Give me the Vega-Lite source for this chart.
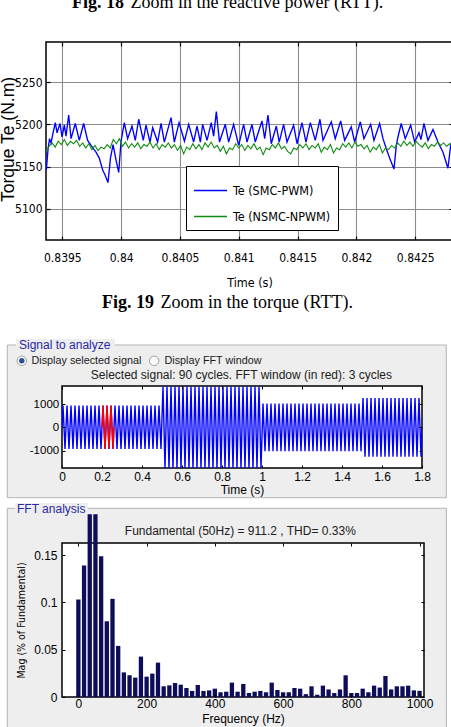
{
  "$schema": "https://vega.github.io/schema/vega-lite/v6.json",
  "background": "white",
  "padding": {"left": -2, "top": -7, "right": -2, "bottom": -19},
  "title": {
    "text": "Fig. 18",
    "subtitle": "\u200b\u00a0\u00a0\u00a0\u00a0\u00a0\u00a0\u00a0\u00a0\u00a0\u00a0\u00a0\u00a0\u00a0Zoom in the reactive power (RTT).",
    "anchor": "start", "frame": "group", "dx": 26, "offset": 29,
    "font": "Liberation Serif, Times New Roman, serif", "fontSize": 18, "fontWeight": "bold", "color": "black",
    "subtitleFont": "Liberation Serif, Times New Roman, serif", "subtitleFontSize": 18, "subtitleFontWeight": "normal", "subtitleColor": "black", "subtitlePadding": -18
  },
  "datasets": {
    "smc": [
      {"t":0.839364,"v":5146},{"t":0.839378,"v":5170},{"t":0.839391,"v":5183},{"t":0.839404,"v":5178},{"t":0.839421,"v":5190},{"t":0.839440,"v":5202},{"t":0.839455,"v":5190},{"t":0.839480,"v":5201},{"t":0.839497,"v":5185},{"t":0.839517,"v":5199},{"t":0.839531,"v":5186},{"t":0.839554,"v":5211},{"t":0.839574,"v":5183},{"t":0.839610,"v":5201},{"t":0.839644,"v":5181},{"t":0.839681,"v":5201},{"t":0.839715,"v":5181},{"t":0.839744,"v":5175},{"t":0.839786,"v":5167},{"t":0.839814,"v":5160},{"t":0.839843,"v":5146},{"t":0.839863,"v":5140},{"t":0.839888,"v":5131},{"t":0.839909,"v":5160},{"t":0.839931,"v":5176},{"t":0.839956,"v":5158},{"t":0.839979,"v":5143},{"t":0.839999,"v":5180},{"t":0.840027,"v":5202},{"t":0.840055,"v":5183},{"t":0.840092,"v":5198},{"t":0.840120,"v":5181},{"t":0.840149,"v":5206},{"t":0.840188,"v":5181},{"t":0.840211,"v":5199},{"t":0.840245,"v":5179},{"t":0.840268,"v":5196},{"t":0.840310,"v":5179},{"t":0.840339,"v":5201},{"t":0.840367,"v":5179},{"t":0.840424,"v":5208},{"t":0.840452,"v":5179},{"t":0.840492,"v":5202},{"t":0.840538,"v":5180},{"t":0.840574,"v":5200},{"t":0.840616,"v":5179},{"t":0.840645,"v":5198},{"t":0.840673,"v":5179},{"t":0.840693,"v":5200},{"t":0.840730,"v":5181},{"t":0.840766,"v":5202},{"t":0.840786,"v":5186},{"t":0.840809,"v":5215},{"t":0.840836,"v":5179},{"t":0.840885,"v":5200},{"t":0.840914,"v":5179},{"t":0.840956,"v":5200},{"t":0.840999,"v":5175},{"t":0.841041,"v":5200},{"t":0.841070,"v":5179},{"t":0.841112,"v":5200},{"t":0.841140,"v":5179},{"t":0.841197,"v":5204},{"t":0.841220,"v":5183},{"t":0.841248,"v":5211},{"t":0.841276,"v":5177},{"t":0.841319,"v":5198},{"t":0.841344,"v":5179},{"t":0.841381,"v":5200},{"t":0.841410,"v":5179},{"t":0.841466,"v":5199},{"t":0.841495,"v":5177},{"t":0.841537,"v":5202},{"t":0.841571,"v":5179},{"t":0.841608,"v":5202},{"t":0.841650,"v":5181},{"t":0.841690,"v":5206},{"t":0.841716,"v":5181},{"t":0.841786,"v":5203},{"t":0.841820,"v":5183},{"t":0.841866,"v":5204},{"t":0.841900,"v":5181},{"t":0.841956,"v":5197},{"t":0.841985,"v":5179},{"t":0.842033,"v":5203},{"t":0.842064,"v":5183},{"t":0.842121,"v":5200},{"t":0.842149,"v":5181},{"t":0.842197,"v":5201},{"t":0.842226,"v":5183},{"t":0.842254,"v":5171},{"t":0.842282,"v":5160},{"t":0.842319,"v":5147},{"t":0.842339,"v":5175},{"t":0.842353,"v":5185},{"t":0.842381,"v":5201},{"t":0.842415,"v":5183},{"t":0.842461,"v":5199},{"t":0.842495,"v":5179},{"t":0.842532,"v":5190},{"t":0.842549,"v":5182},{"t":0.842574,"v":5201},{"t":0.842608,"v":5181},{"t":0.842651,"v":5194},{"t":0.842693,"v":5179},{"t":0.842736,"v":5167},{"t":0.842778,"v":5148},{"t":0.842801,"v":5175},{"t":0.842821,"v":5183}
    ],
    "nsmc": [
      {"t":0.839361,"v":5168},{"t":0.839387,"v":5174},{"t":0.839413,"v":5178},{"t":0.839439,"v":5173},{"t":0.839465,"v":5180},{"t":0.839491,"v":5176},{"t":0.839517,"v":5182},{"t":0.839543,"v":5175},{"t":0.839569,"v":5180},{"t":0.839595,"v":5177},
      {"t":0.839621,"v":5181},{"t":0.839647,"v":5174},{"t":0.839673,"v":5178},{"t":0.839699,"v":5172},{"t":0.839725,"v":5177},{"t":0.839751,"v":5170},{"t":0.839777,"v":5175},{"t":0.839803,"v":5169},{"t":0.839829,"v":5173},{"t":0.839855,"v":5171},
      {"t":0.839881,"v":5176},{"t":0.839907,"v":5172},{"t":0.839933,"v":5182},{"t":0.839959,"v":5177},{"t":0.839985,"v":5183},{"t":0.840011,"v":5174},{"t":0.840037,"v":5179},{"t":0.840063,"v":5172},{"t":0.840089,"v":5177},{"t":0.840115,"v":5173},
      {"t":0.840141,"v":5178},{"t":0.840167,"v":5171},{"t":0.840193,"v":5176},{"t":0.840219,"v":5174},{"t":0.840245,"v":5179},{"t":0.840271,"v":5172},{"t":0.840297,"v":5177},{"t":0.840323,"v":5170},{"t":0.840349,"v":5176},{"t":0.840375,"v":5173},
      {"t":0.840401,"v":5178},{"t":0.840427,"v":5172},{"t":0.840453,"v":5176},{"t":0.840479,"v":5169},{"t":0.840505,"v":5175},{"t":0.840531,"v":5165},{"t":0.840557,"v":5173},{"t":0.840583,"v":5170},{"t":0.840609,"v":5177},{"t":0.840635,"v":5171},
      {"t":0.840661,"v":5176},{"t":0.840687,"v":5170},{"t":0.840713,"v":5178},{"t":0.840739,"v":5173},{"t":0.840765,"v":5179},{"t":0.840791,"v":5172},{"t":0.840817,"v":5175},{"t":0.840843,"v":5168},{"t":0.840869,"v":5174},{"t":0.840895,"v":5165},
      {"t":0.840921,"v":5172},{"t":0.840947,"v":5170},{"t":0.840973,"v":5177},{"t":0.840999,"v":5172},{"t":0.841025,"v":5176},{"t":0.841051,"v":5169},{"t":0.841077,"v":5175},{"t":0.841103,"v":5171},{"t":0.841129,"v":5177},{"t":0.841155,"v":5170},
      {"t":0.841181,"v":5173},{"t":0.841207,"v":5164},{"t":0.841233,"v":5172},{"t":0.841259,"v":5170},{"t":0.841285,"v":5176},{"t":0.841311,"v":5172},{"t":0.841337,"v":5178},{"t":0.841363,"v":5171},{"t":0.841389,"v":5174},{"t":0.841415,"v":5168},
      {"t":0.841441,"v":5165},{"t":0.841467,"v":5172},{"t":0.841493,"v":5170},{"t":0.841519,"v":5176},{"t":0.841545,"v":5172},{"t":0.841571,"v":5177},{"t":0.841597,"v":5170},{"t":0.841623,"v":5175},{"t":0.841649,"v":5172},{"t":0.841675,"v":5177},
      {"t":0.841701,"v":5167},{"t":0.841727,"v":5173},{"t":0.841753,"v":5170},{"t":0.841779,"v":5176},{"t":0.841805,"v":5166},{"t":0.841831,"v":5172},{"t":0.841857,"v":5170},{"t":0.841883,"v":5177},{"t":0.841909,"v":5173},{"t":0.841935,"v":5178},
      {"t":0.841961,"v":5172},{"t":0.841987,"v":5179},{"t":0.842013,"v":5174},{"t":0.842039,"v":5176},{"t":0.842065,"v":5171},{"t":0.842091,"v":5175},{"t":0.842117,"v":5167},{"t":0.842143,"v":5173},{"t":0.842169,"v":5170},{"t":0.842195,"v":5176},
      {"t":0.842221,"v":5166},{"t":0.842247,"v":5172},{"t":0.842273,"v":5170},{"t":0.842299,"v":5175},{"t":0.842325,"v":5172},{"t":0.842351,"v":5178},{"t":0.842377,"v":5174},{"t":0.842403,"v":5180},{"t":0.842429,"v":5175},{"t":0.842455,"v":5179},
      {"t":0.842481,"v":5174},{"t":0.842507,"v":5180},{"t":0.842533,"v":5176},{"t":0.842559,"v":5173},{"t":0.842585,"v":5178},{"t":0.842611,"v":5171},{"t":0.842637,"v":5176},{"t":0.842663,"v":5174},{"t":0.842689,"v":5179},{"t":0.842715,"v":5175},
      {"t":0.842741,"v":5178},{"t":0.842767,"v":5174},{"t":0.842793,"v":5177},{"t":0.842819,"v":5175}
    ],
    "sig": [
      {"t":0,"v":0},
      {"t":0.005,"v":930},{"t":0.015,"v":-930},{"t":0.025,"v":930},{"t":0.035,"v":-930},{"t":0.045,"v":930},{"t":0.055,"v":-930},{"t":0.065,"v":930},{"t":0.075,"v":-930},{"t":0.085,"v":930},{"t":0.095,"v":-930},
      {"t":0.105,"v":930},{"t":0.115,"v":-930},{"t":0.125,"v":930},{"t":0.135,"v":-930},{"t":0.145,"v":930},{"t":0.155,"v":-930},{"t":0.165,"v":930},{"t":0.175,"v":-930},{"t":0.185,"v":930},{"t":0.195,"v":-930},
      {"t":0.205,"v":930},{"t":0.215,"v":-930},{"t":0.225,"v":930},{"t":0.235,"v":-930},{"t":0.245,"v":930},{"t":0.255,"v":-930},{"t":0.265,"v":930},{"t":0.275,"v":-930},{"t":0.285,"v":930},{"t":0.295,"v":-930},
      {"t":0.305,"v":930},{"t":0.315,"v":-930},{"t":0.325,"v":930},{"t":0.335,"v":-930},{"t":0.345,"v":930},{"t":0.355,"v":-930},{"t":0.365,"v":930},{"t":0.375,"v":-930},{"t":0.385,"v":930},{"t":0.395,"v":-930},
      {"t":0.405,"v":930},{"t":0.415,"v":-930},{"t":0.425,"v":930},{"t":0.435,"v":-930},{"t":0.445,"v":930},{"t":0.455,"v":-930},{"t":0.465,"v":930},{"t":0.475,"v":-930},{"t":0.485,"v":930},{"t":0.495,"v":-930},
      {"t":0.505,"v":1750},{"t":0.515,"v":-1750},{"t":0.525,"v":1750},{"t":0.535,"v":-1750},{"t":0.545,"v":1750},{"t":0.555,"v":-1750},{"t":0.565,"v":1750},{"t":0.575,"v":-1750},{"t":0.585,"v":1750},{"t":0.595,"v":-1750},
      {"t":0.605,"v":1750},{"t":0.615,"v":-1750},{"t":0.625,"v":1750},{"t":0.635,"v":-1750},{"t":0.645,"v":1750},{"t":0.655,"v":-1750},{"t":0.665,"v":1750},{"t":0.675,"v":-1750},{"t":0.685,"v":1750},{"t":0.695,"v":-1750},
      {"t":0.705,"v":1750},{"t":0.715,"v":-1750},{"t":0.725,"v":1750},{"t":0.735,"v":-1750},{"t":0.745,"v":1750},{"t":0.755,"v":-1750},{"t":0.765,"v":1750},{"t":0.775,"v":-1750},{"t":0.785,"v":1750},{"t":0.795,"v":-1750},
      {"t":0.805,"v":1750},{"t":0.815,"v":-1750},{"t":0.825,"v":1750},{"t":0.835,"v":-1750},{"t":0.845,"v":1750},{"t":0.855,"v":-1750},{"t":0.865,"v":1750},{"t":0.875,"v":-1750},{"t":0.885,"v":1750},{"t":0.895,"v":-1750},
      {"t":0.905,"v":1750},{"t":0.915,"v":-1750},{"t":0.925,"v":1750},{"t":0.935,"v":-1750},{"t":0.945,"v":1750},{"t":0.955,"v":-1750},{"t":0.965,"v":1750},{"t":0.975,"v":-1750},{"t":0.985,"v":1750},{"t":0.995,"v":-1750},
      {"t":1.005,"v":1020},{"t":1.015,"v":-1020},{"t":1.025,"v":1020},{"t":1.035,"v":-1020},{"t":1.045,"v":1020},{"t":1.055,"v":-1020},{"t":1.065,"v":1020},{"t":1.075,"v":-1020},{"t":1.085,"v":1020},{"t":1.095,"v":-1020},
      {"t":1.105,"v":1020},{"t":1.115,"v":-1020},{"t":1.125,"v":1020},{"t":1.135,"v":-1020},{"t":1.145,"v":1020},{"t":1.155,"v":-1020},{"t":1.165,"v":1020},{"t":1.175,"v":-1020},{"t":1.185,"v":1020},{"t":1.195,"v":-1020},
      {"t":1.205,"v":1020},{"t":1.215,"v":-1020},{"t":1.225,"v":1020},{"t":1.235,"v":-1020},{"t":1.245,"v":1020},{"t":1.255,"v":-1020},{"t":1.265,"v":1020},{"t":1.275,"v":-1020},{"t":1.285,"v":1020},{"t":1.295,"v":-1020},
      {"t":1.305,"v":1020},{"t":1.315,"v":-1020},{"t":1.325,"v":1020},{"t":1.335,"v":-1020},{"t":1.345,"v":1020},{"t":1.355,"v":-1020},{"t":1.365,"v":1020},{"t":1.375,"v":-1020},{"t":1.385,"v":1020},{"t":1.395,"v":-1020},
      {"t":1.405,"v":1020},{"t":1.415,"v":-1020},{"t":1.425,"v":1020},{"t":1.435,"v":-1020},{"t":1.445,"v":1020},{"t":1.455,"v":-1020},{"t":1.465,"v":1020},{"t":1.475,"v":-1020},{"t":1.485,"v":1020},{"t":1.495,"v":-1020},
      {"t":1.505,"v":1260},{"t":1.515,"v":-1260},{"t":1.525,"v":1260},{"t":1.535,"v":-1260},{"t":1.545,"v":1260},{"t":1.555,"v":-1260},{"t":1.565,"v":1260},{"t":1.575,"v":-1260},{"t":1.585,"v":1260},{"t":1.595,"v":-1260},
      {"t":1.605,"v":1260},{"t":1.615,"v":-1260},{"t":1.625,"v":1260},{"t":1.635,"v":-1260},{"t":1.645,"v":1260},{"t":1.655,"v":-1260},{"t":1.665,"v":1260},{"t":1.675,"v":-1260},{"t":1.685,"v":1260},{"t":1.695,"v":-1260},
      {"t":1.705,"v":1260},{"t":1.715,"v":-1260},{"t":1.725,"v":1260},{"t":1.735,"v":-1260},{"t":1.745,"v":1260},{"t":1.755,"v":-1260},{"t":1.765,"v":1260},{"t":1.775,"v":-1260},{"t":1.785,"v":1260},{"t":1.795,"v":-1260},
      {"t":1.8,"v":0}
    ],
    "win": [
      {"t":0.2,"v":0},{"t":0.205,"v":930},{"t":0.215,"v":-930},{"t":0.225,"v":930},{"t":0.235,"v":-930},{"t":0.245,"v":930},{"t":0.255,"v":-930},{"t":0.26,"v":0}
    ],
    "fft": [
      {"f":0,"m":0.103},{"f":16.67,"m":0.139},{"f":33.33,"m":0.193},{"f":50,"m":0.193},{"f":66.67,"m":0.1486},{"f":83.33,"m":0.080},{"f":100,"m":0.1037},{"f":116.67,"m":0.054},{"f":133.33,"m":0.026},{"f":150,"m":0.023},
      {"f":166.67,"m":0.0205},{"f":183.33,"m":0.0427},{"f":200,"m":0.0215},{"f":216.67,"m":0.0247},{"f":233.33,"m":0.0363},{"f":250,"m":0.0113},{"f":266.67,"m":0.0123},{"f":283.33,"m":0.0148},{"f":300,"m":0.013},{"f":316.67,"m":0.0095},
      {"f":333.33,"m":0.0064},{"f":350,"m":0.0127},{"f":366.67,"m":0.0064},{"f":383.33,"m":0.007},{"f":400,"m":0.0088},{"f":416.67,"m":0.005},{"f":433.33,"m":0.0056},{"f":450,"m":0.0152},{"f":466.67,"m":0.0056},{"f":483.33,"m":0.0138},
      {"f":500,"m":0.0042},{"f":516.67,"m":0.0056},{"f":533.33,"m":0.0064},{"f":550,"m":0.005},{"f":566.67,"m":0.0152},{"f":583.33,"m":0.0074},{"f":600,"m":0.005},{"f":616.67,"m":0.005},{"f":633.33,"m":0.0095},{"f":650,"m":0.0088},
      {"f":666.67,"m":0.003},{"f":683.33,"m":0.0113},{"f":700,"m":0.0025},{"f":716.67,"m":0.012},{"f":733.33,"m":0.008},{"f":750,"m":0.0042},{"f":766.67,"m":0.008},{"f":783.33,"m":0.0229},{"f":800,"m":0.0042},{"f":816.67,"m":0.0042},
      {"f":833.33,"m":0.0088},{"f":850,"m":0.005},{"f":866.67,"m":0.012},{"f":883.33,"m":0.010},{"f":900,"m":0.0222},{"f":916.67,"m":0.008},{"f":933.33,"m":0.0113},{"f":950,"m":0.0113},{"f":966.67,"m":0.012},{"f":983.33,"m":0.007},
      {"f":1000,"m":0.0065}
    ]
  },
  "bounds": "flush",
  "spacing": 146,
  "vconcat": [
    {
      "width": 407,
      "height": 198,
      "view": {"stroke": "black", "strokeWidth": 1.5, "fill": "white"},
      "resolve": {"axis": {"x": "independent", "y": "independent"}},
      "title": {
        "text": "Fig. 19",
        "subtitle": "\u200b\u00a0\u00a0\u00a0\u00a0\u00a0\u00a0\u00a0\u00a0\u00a0\u00a0\u00a0\u00a0\u00a0Zoom in the torque (RTT).",
        "orient": "bottom", "anchor": "start", "frame": "group", "dx": 56, "offset": 5.5,
        "font": "Liberation Serif, Times New Roman, serif", "fontSize": 18, "fontWeight": "bold", "color": "black",
        "subtitleFont": "Liberation Serif, Times New Roman, serif", "subtitleFontSize": 18, "subtitleFontWeight": "normal", "subtitleColor": "black", "subtitlePadding": -18
      },
      "layer": [
        {
          "data": {"name": "smc"},
          "mark": {"type": "line", "strokeWidth": 1.35, "clip": true},
          "encoding": {
            "x": {
              "field": "t", "type": "quantitative",
              "scale": {"domain": [0.839361, 0.842821], "nice": false, "zero": false},
              "axis": {
                "values": [0.8395, 0.84, 0.8405, 0.841, 0.8415, 0.842, 0.8425], "tickCount": 20,
                "format": ".4~f", "title": "Time (s)", "grid": true, "gridColor": "#8c8c8c", "gridWidth": 1.1,
                "tickSize": -4, "tickWidth": 1.2, "labelPadding": 16, "labelOverlap": false,
                "labelFont": "DejaVu Sans Condensed, sans-serif", "labelFontSize": 12,
                "titleFont": "DejaVu Sans Condensed, sans-serif", "titleFontSize": 12.5,
                "titleY": 36, "titleBaseline": "top"
              }
            },
            "y": {
              "field": "v", "type": "quantitative",
              "scale": {"domain": [5063, 5297.5], "nice": false, "zero": false},
              "axis": {
                "values": [5100, 5150, 5200, 5250], "tickCount": 20, "format": "d", "title": "Torque Te (N.m)",
                "grid": true, "gridColor": "#8c8c8c", "gridWidth": 1.1,
                "tickSize": -4, "tickWidth": 1.2, "labelPadding": 8, "labelOverlap": false,
                "labelFont": "DejaVu Sans Condensed, sans-serif", "labelFontSize": 12,
                "titleFont": "Liberation Sans, Arial, sans-serif", "titleFontSize": 17.5,
                "titleX": -33, "titleY": 97, "titleAngle": 270, "titleAlign": "center", "titleBaseline": "alphabetic"
              }
            },
            "color": {
              "datum": "Te (SMC-PWM)", "type": "nominal",
              "scale": {"domain": ["Te (SMC-PWM)", "Te (NSMC-NPWM)"], "range": ["#0000ff", "#118c11"]},
              "legend": {
                "orient": "none", "legendX": 140, "legendY": 124, "title": null,
                "symbolType": "stroke", "symbolSize": 1089, "symbolStrokeWidth": 1.4,
                "labelFont": "DejaVu Sans Condensed, sans-serif", "labelFontSize": 12.5, "labelColor": "black",
                "labelOffset": 5, "labelLimit": 200, "padding": 7, "rowPadding": 2,
                "strokeColor": "black", "fillColor": "white"
              }
            }
          }
        },
        {
          "data": {"name": "nsmc"},
          "mark": {"type": "line", "strokeWidth": 1.1, "clip": true},
          "encoding": {
            "x": {
              "field": "t", "type": "quantitative",
              "scale": {"domain": [0.839361, 0.842821], "nice": false, "zero": false},
              "axis": {
                "orient": "top", "labels": false, "title": null, "grid": false, "tickCount": 20,
                "values": [0.8395, 0.84, 0.8405, 0.841, 0.8415, 0.842, 0.8425], "tickSize": -4, "tickWidth": 1.2
              }
            },
            "y": {
              "field": "v", "type": "quantitative",
              "scale": {"domain": [5063, 5297.5], "nice": false, "zero": false},
              "axis": {
                "orient": "right", "labels": false, "title": null, "grid": false, "tickCount": 20,
                "values": [5100, 5150, 5200, 5250], "tickSize": -4, "tickWidth": 1.2
              }
            },
            "color": {"datum": "Te (NSMC-NPWM)", "type": "nominal"}
          }
        }
      ]
    },
    {
      "bounds": "flush",
      "spacing": 15,
      "hconcat": [
        {
          "width": 1, "height": 1,
          "data": {"values": [{}]},
          "mark": {"type": "point", "opacity": 0}
        },
        {
          "bounds": "flush",
          "spacing": 75,
          "vconcat": [
            {
              "width": 360,
              "height": 82,
              "resolve": {"axis": {"x": "independent", "y": "independent"}},
              "title": {
                "text": "Selected signal: 90 cycles. FFT window (in red): 3 cycles",
                "anchor": "middle", "frame": "group", "dx": -0.6, "offset": -43.5,
                "font": "Liberation Sans, Arial, sans-serif", "fontSize": 12, "fontWeight": "normal", "color": "#202020"
              },
              "layer": [
                {
                  "data": {"values": [{}]},
                  "mark": {"type": "rect", "fill": "#eeeeee", "stroke": "#b4b4b4", "strokeWidth": 1},
                  "encoding": {
                    "x": {
                      "datum": -0.2735, "type": "quantitative",
                      "scale": {"domain": [0, 1.8], "nice": false, "zero": false},
                      "axis": {
                        "values": [0, 0.2, 0.4, 0.6, 0.8, 1, 1.2, 1.4, 1.6, 1.8], "tickCount": 20, "format": "~g",
                        "labelOverlap": false,
                        "title": "Time (s)", "titleY": 16.8, "titleBaseline": "top",
                        "tickSize": -3, "labelPadding": 6.5, "labelFontSize": 12, "titleFontSize": 12, "zindex": 1
                      }
                    },
                    "x2": {"datum": 1.9215},
                    "y": {
                      "datum": 3527, "type": "quantitative",
                      "scale": {"domain": [-1741, 1771], "nice": false, "zero": false},
                      "axis": {
                        "values": [-1000, 0, 1000], "tickCount": 20, "format": "d", "labelOverlap": false,
                        "labelExpr": "replace(datum.label, '\u2212', '-')", "title": null,
                        "tickSize": -3, "labelPadding": 6.3, "labelFontSize": 11.5, "zindex": 1
                      }
                    },
                    "y2": {"datum": -3013}
                  }
                },
                {
                  "data": {"values": [{}]},
                  "mark": {"type": "rect", "fill": "#eeeeee"},
                  "encoding": {
                    "x": {"datum": -0.23, "type": "quantitative", "scale": {"domain": [0, 1.8], "nice": false, "zero": false}, "axis": null},
                    "x2": {"datum": 0.265},
                    "y": {"datum": 3784, "type": "quantitative", "scale": {"domain": [-1741, 1771], "nice": false, "zero": false}, "axis": null},
                    "y2": {"datum": 3270}
                  }
                },
                {
                  "data": {"values": [{"label": "Signal to analyze"}]},
                  "mark": {"type": "text", "align": "left", "baseline": "alphabetic", "font": "Liberation Sans, Arial, sans-serif", "fontSize": 12, "color": "#2828a8"},
                  "encoding": {
                    "x": {"datum": -0.215, "type": "quantitative", "scale": {"domain": [0, 1.8], "nice": false, "zero": false}, "axis": null},
                    "y": {"datum": 3377, "type": "quantitative", "scale": {"domain": [-1741, 1771], "nice": false, "zero": false}, "axis": null},
                    "text": {"field": "label"}
                  }
                },
                {
                  "data": {"values": [{"pos": -0.201}, {"pos": 0.461}]},
                  "mark": {"type": "point", "shape": "circle", "filled": true, "fill": "#fbfbfb", "stroke": "#a0a0a0", "strokeWidth": 1, "size": 90, "opacity": 1},
                  "encoding": {
                    "x": {"field": "pos", "type": "quantitative", "scale": {"domain": [0, 1.8], "nice": false, "zero": false}, "axis": null},
                    "y": {"datum": 2850, "type": "quantitative", "scale": {"domain": [-1741, 1771], "nice": false, "zero": false}, "axis": null}
                  }
                },
                {
                  "data": {"values": [{}]},
                  "mark": {"type": "point", "shape": "circle", "filled": true, "fill": "#2f4f9c", "size": 30, "opacity": 1},
                  "encoding": {
                    "x": {"datum": -0.201, "type": "quantitative", "scale": {"domain": [0, 1.8], "nice": false, "zero": false}, "axis": null},
                    "y": {"datum": 2850, "type": "quantitative", "scale": {"domain": [-1741, 1771], "nice": false, "zero": false}, "axis": null}
                  }
                },
                {
                  "data": {"values": [{"label": "Display selected signal", "pos": -0.1525}, {"label": "Display FFT window", "pos": 0.5125}]},
                  "mark": {"type": "text", "align": "left", "baseline": "alphabetic", "font": "Liberation Sans, Arial, sans-serif", "fontSize": 10.8, "color": "#1a1a1a"},
                  "encoding": {
                    "x": {"field": "pos", "type": "quantitative", "scale": {"domain": [0, 1.8], "nice": false, "zero": false}, "axis": null},
                    "y": {"datum": 2692, "type": "quantitative", "scale": {"domain": [-1741, 1771], "nice": false, "zero": false}, "axis": null},
                    "text": {"field": "label"}
                  }
                },
                {
                  "data": {"values": [{}]},
                  "mark": {"type": "rect", "fill": "white", "stroke": "black", "strokeWidth": 1.5},
                  "encoding": {
                    "x": {"datum": 0, "type": "quantitative", "scale": {"domain": [0, 1.8], "nice": false, "zero": false}, "axis": null},
                    "x2": {"datum": 1.8},
                    "y": {"datum": 1771, "type": "quantitative", "scale": {"domain": [-1741, 1771], "nice": false, "zero": false}, "axis": null},
                    "y2": {"datum": -1741}
                  }
                },
                {
                  "data": {"name": "sig"},
                  "mark": {"type": "line", "color": "#0000ff", "strokeWidth": 1.4, "clip": true},
                  "encoding": {
                    "x": {
                      "field": "t", "type": "quantitative",
                      "scale": {"domain": [0, 1.8], "nice": false, "zero": false},
                      "axis": {
                        "orient": "top", "labels": false, "title": null, "tickCount": 20,
                        "values": [0, 0.2, 0.4, 0.6, 0.8, 1, 1.2, 1.4, 1.6, 1.8], "tickSize": -3, "zindex": 1
                      }
                    },
                    "y": {
                      "field": "v", "type": "quantitative",
                      "scale": {"domain": [-1741, 1771], "nice": false, "zero": false},
                      "axis": {
                        "orient": "right", "labels": false, "title": null, "tickCount": 20,
                        "values": [-1000, 0, 1000], "tickSize": -3, "zindex": 1
                      }
                    }
                  }
                },
                {
                  "data": {"name": "win"},
                  "mark": {"type": "line", "color": "#ff0000", "strokeWidth": 1.4, "clip": true},
                  "encoding": {
                    "x": {"field": "t", "type": "quantitative", "scale": {"domain": [0, 1.8], "nice": false, "zero": false}, "axis": null},
                    "y": {"field": "v", "type": "quantitative", "scale": {"domain": [-1741, 1771], "nice": false, "zero": false}, "axis": null}
                  }
                }
              ]
            },
            {
              "width": 362,
              "height": 154,
              "resolve": {"axis": {"x": "independent", "y": "independent"}},
              "title": {
                "text": "Fundamental (50Hz) = 911.2 , THD= 0.33%",
                "anchor": "middle", "frame": "group", "dx": -2.7, "offset": -35.5,
                "font": "Liberation Sans, Arial, sans-serif", "fontSize": 12, "fontWeight": "normal", "color": "#202020"
              },
              "layer": [
                {
                  "data": {"values": [{}]},
                  "mark": {"type": "rect", "fill": "#eeeeee", "stroke": "#b4b4b4", "strokeWidth": 1},
                  "encoding": {
                    "x": {
                      "datum": -208.3, "type": "quantitative",
                      "scale": {"domain": [-48, 1013], "nice": false, "zero": false, "padding": 0},
                      "axis": {
                        "values": [0, 200, 400, 600, 800, 1000], "tickCount": 20, "format": "d", "labelOverlap": false,
                        "title": "Frequency (Hz)", "titleY": 16.1, "titleBaseline": "top",
                        "tickSize": -3, "labelPadding": 4.8, "labelFontSize": 12, "titleFontSize": 12, "zindex": 1
                      }
                    },
                    "x2": {"datum": 1078.4},
                    "y": {
                      "datum": 0.19936, "type": "quantitative",
                      "scale": {"domain": [0, 0.1627], "nice": false},
                      "axis": {
                        "values": [0, 0.05, 0.1, 0.15], "tickCount": 20, "format": "~g", "labelOverlap": false,
                        "title": "Mag (% of Fundamental)",
                        "titleFont": "DejaVu Sans Condensed, sans-serif", "titleFontSize": 10.5,
                        "titleX": -37.2, "titleY": 77, "titleAngle": 270, "titleAlign": "center", "titleBaseline": "alphabetic",
                        "tickSize": -3, "labelPadding": 8, "labelFontSize": 12, "zindex": 1
                      }
                    },
                    "y2": {"datum": -0.0507}
                  }
                },
                {
                  "data": {"values": [{}]},
                  "mark": {"type": "rect", "fill": "#eeeeee"},
                  "encoding": {
                    "x": {"datum": -185.8, "type": "quantitative", "scale": {"domain": [-48, 1013], "nice": false, "zero": false, "padding": 0}, "axis": null},
                    "x2": {"datum": 28.2},
                    "y": {"datum": 0.20496, "type": "quantitative", "scale": {"domain": [0, 0.1627], "nice": false}, "axis": null},
                    "y2": {"datum": 0.19176}
                  }
                },
                {
                  "data": {"values": [{"label": "FFT analysis"}]},
                  "mark": {"type": "text", "align": "left", "baseline": "alphabetic", "font": "Liberation Sans, Arial, sans-serif", "fontSize": 12, "color": "#2828a8"},
                  "encoding": {
                    "x": {"datum": -179.9, "type": "quantitative", "scale": {"domain": [-48, 1013], "nice": false, "zero": false, "padding": 0}, "axis": null},
                    "y": {"datum": 0.19492, "type": "quantitative", "scale": {"domain": [0, 0.1627], "nice": false}, "axis": null},
                    "text": {"field": "label"}
                  }
                },
                {
                  "data": {"values": [{}]},
                  "mark": {"type": "rect", "fill": "white", "stroke": "black", "strokeWidth": 1.5},
                  "encoding": {
                    "x": {"datum": -48, "type": "quantitative", "scale": {"domain": [-48, 1013], "nice": false, "zero": false, "padding": 0}, "axis": null},
                    "x2": {"datum": 1013},
                    "y": {"datum": 0.1627, "type": "quantitative", "scale": {"domain": [0, 0.1627], "nice": false}, "axis": null},
                    "y2": {"datum": 0}
                  }
                },
                {
                  "data": {"name": "fft"},
                  "mark": {"type": "bar", "width": 4.3, "color": "#0d0d5a", "clip": false},
                  "encoding": {
                    "x": {
                      "field": "f", "type": "quantitative",
                      "scale": {"domain": [-48, 1013], "nice": false, "zero": false, "padding": 0},
                      "axis": {
                        "orient": "top", "labels": false, "title": null, "tickCount": 20,
                        "values": [0, 200, 400, 600, 800, 1000], "tickSize": -3, "zindex": 1
                      }
                    },
                    "y": {
                      "field": "m", "type": "quantitative",
                      "scale": {"domain": [0, 0.1627], "nice": false},
                      "axis": {
                        "orient": "right", "labels": false, "title": null, "tickCount": 20,
                        "values": [0, 0.05, 0.1, 0.15], "tickSize": -3, "zindex": 1
                      }
                    }
                  }
                }
              ]
            }
          ]
        }
      ]
    }
  ],
  "config": {
    "view": {"stroke": null},
    "axis": {
      "domain": false, "labelColor": "black", "titleColor": "black", "tickColor": "black",
      "titleFontWeight": "normal", "labelFont": "Liberation Sans, Arial, sans-serif", "titleFont": "Liberation Sans, Arial, sans-serif",
      "labelFlush": false, "labelOverlap": false, "grid": false
    }
  }
}
